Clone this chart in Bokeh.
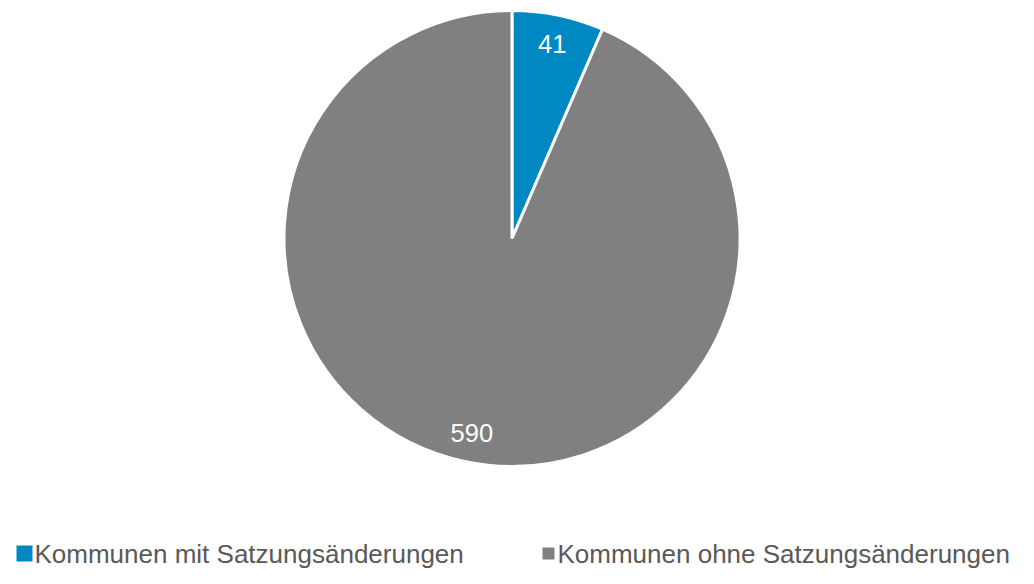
import math
from bokeh.plotting import figure
from bokeh.models import ColumnDataSource
from bokeh.core.properties import value
from bokeh.embed import file_html
from bokeh.resources import INLINE

categories = ["Kommunen mit Satzungsänderungen", "Kommunen ohne Satzungsänderungen"]
counts = [41, 590]
colors = ["#0088C2", "#808080"]

W, H = 1018, 568
CX, CY, R = 511.5, 330, 228
FONT = "Liberation Sans"

total = sum(counts)
starts, ends, lx, ly, labels = [], [], [], [], []
ang = math.pi / 2
for c in counts:
    sweep = 2 * math.pi * c / total
    starts.append(ang)
    ends.append(ang - sweep)
    mid = ang - sweep / 2
    lx.append(CX + 0.87 * R * math.cos(mid))
    ly.append(CY + 0.87 * R * math.sin(mid))
    labels.append(str(c))
    ang -= sweep

src = ColumnDataSource(dict(start=starts, end=ends, color=colors, lx=lx, ly=ly, label=labels,
                            x=[CX] * len(counts), y=[CY] * len(counts)))

p = figure(width=W, height=H, x_range=(0, W), y_range=(0, H), output_backend="svg",
           toolbar_location=None, min_border=0, outline_line_color=None)
p.axis.visible = False
p.grid.visible = False

p.wedge(x="x", y="y", radius=R, radius_units="screen", start_angle="start", end_angle="end",
        direction="clock", fill_color="color", line_color="white", line_width=3, source=src)
p.text(x="lx", y="ly", text="label", text_color="white", text_font=value(FONT),
       text_font_size="25.5px", text_align="center", text_baseline="middle", source=src)

# legend
leg_sq_x = [24, 548]
leg_sq_size = [16, 12]
leg_txt_x = [34, 557]
leg_y = 15
p.rect(x=leg_sq_x, y=[leg_y, leg_y], width=leg_sq_size, height=leg_sq_size,
       width_units="screen", height_units="screen", fill_color=colors, line_color=None)
p.text(x=leg_txt_x, y=[leg_y, leg_y], text=categories, text_color="#595959",
       text_font=value(FONT), text_font_size="26px", text_align="left", text_baseline="middle")

open("out.html", "w").write(file_html(p, INLINE))
